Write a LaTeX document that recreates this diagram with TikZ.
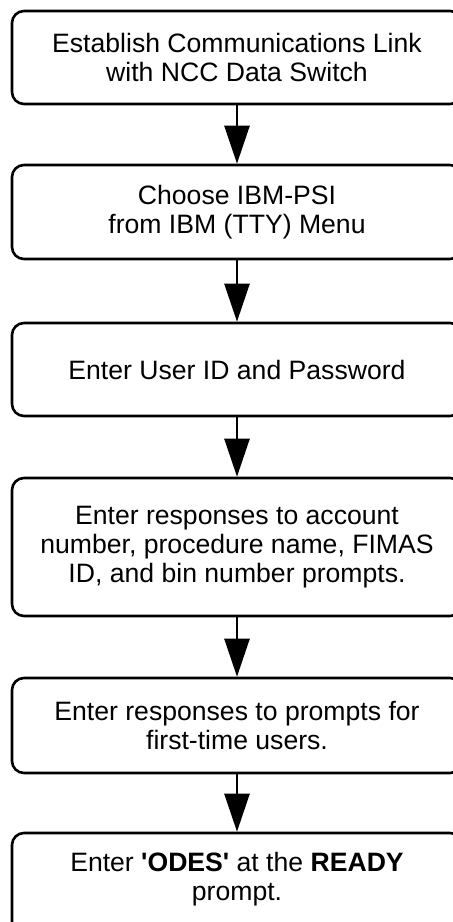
\documentclass[tikz,border=0pt]{standalone}
\usepackage{fontspec}
\setmainfont{Liberation Sans}
\usetikzlibrary{arrows.meta}

\tikzset{
  stepbox/.style={draw=black,line width=1.3pt,rounded corners=6pt,minimum width=225pt,align=center,inner sep=2pt,font=\fontsize{13.3}{14.5}\selectfont},
  flow/.style={line width=1.3pt,-{Triangle[length=19pt,width=12.5pt]}}
}

\begin{document}
\begin{tikzpicture}[x=0.5pt,y=-0.5pt]
\useasboundingbox (0,0) rectangle (453,922);
\node[stepbox,minimum height=46.5pt] (s0) at (237,57.5) {Establish Communications Link\\with NCC Data Switch};
\node[stepbox,minimum height=47pt] (s1) at (237,212) {Choose IBM-PSI\\from IBM (TTY) Menu};
\node[stepbox,minimum height=46.5pt] (s2) at (237,369.5) {Enter User ID and Password};
\node[stepbox,minimum height=69pt] (s3) at (237,547) {Enter responses to account\\number, procedure name, FIMAS\\ID, and bin number prompts.};
\node[stepbox,minimum height=47.5pt] (s4) at (237,725.5) {Enter responses to prompts for\\first-time users.};
% last box runs off the bottom edge
\node[stepbox,minimum height=54pt,text depth=11pt] (s5) at (237,887) {Enter \textbf{\textquotesingle ODES\textquotesingle} at the \textbf{READY}\\prompt.};
\draw[flow] (s0.south)--(s1.north);
\draw[flow] (s1.south)--(s2.north);
\draw[flow] (s2.south)--(s3.north);
\draw[flow] (s3.south)--(s4.north);
\draw[flow] (s4.south)--(s5.north);
\end{tikzpicture}
\end{document}
